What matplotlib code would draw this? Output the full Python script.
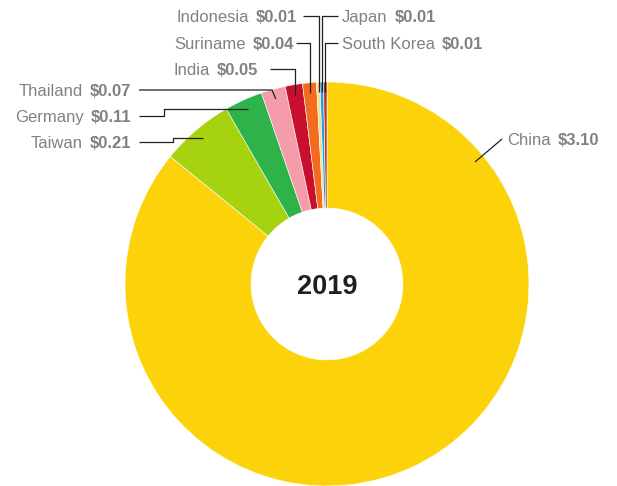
import matplotlib.pyplot as plt
import numpy as np

# Data (values in $)
countries = ["China", "Taiwan", "Germany", "Thailand", "India", "Suriname",
             "Indonesia", "Japan", "South Korea"]
values = [3.10, 0.21, 0.11, 0.07, 0.05, 0.04, 0.01, 0.01, 0.01]
value_labels = ["$3.10", "$0.21", "$0.11", "$0.07", "$0.05", "$0.04",
                "$0.01", "$0.01", "$0.01"]
colors = ["#FCD30A", "#A6D20F", "#2DB34A", "#F49CA9", "#C8102E", "#F26B21",
          "#F1E08C", "#1E9FD9", "#B83B2F"]
year = "2019"

# Label layout in pixels: text x, text y, side of text, line start x, leader mode, elbow x
label_layout = {
    "China":       (507, 139, "right", 502, "straight", 502),
    "Taiwan":      (131, 142, "left", 139, "elbow_h", 173),
    "Germany":     (131, 116, "left", 139, "elbow_h", 164),
    "Thailand":    (131, 90, "left", 139, "straight", 272),
    "India":       (258, 69, "left", 270, "elbow_v", None),
    "Suriname":    (294, 43, "left", 296, "elbow_v", None),
    "Indonesia":   (297, 16, "left", 303, "elbow_v", None),
    "Japan":       (342, 16, "right", 338, "elbow_v", None),
    "South Korea": (342, 43, "right", 338, "elbow_v", None),
}

CX, CY, R = 327, 284, 202  # pie centre and radius in pixels
W, H = 617, 486


def to_data(px, py):
    return (px - CX) / R, (CY - py) / R


if __name__ == "__main__":
    plt.rcParams["font.family"] = ["Liberation Sans", "DejaVu Sans"]
    fig = plt.figure(figsize=(W / 100, H / 100), dpi=100)
    ax = fig.add_axes([0, 0, 1, 1])

    wedges, _ = ax.pie(values, colors=colors, startangle=90, counterclock=False,
                       radius=1, wedgeprops=dict(width=0.624, edgecolor="white", linewidth=0.4))
    ax.set_xlim(-CX / R, (W - CX) / R)
    ax.set_ylim(-(H - CY) / R, CY / R)
    ax.set_aspect("auto")
    ax.axis("off")

    ax.text(0, 0, year, ha="center", va="center_baseline", fontsize=19.5,
            fontweight="bold", color="#231F20")

    grey = "#808184"
    fs = 12
    for wedge, name, vlabel in zip(wedges, countries, value_labels):
        tx, ty, side, lx, mode, ex_elbow = label_layout[name]
        # leader end point on the slice
        ang = (wedge.theta1 + wedge.theta2) / 2
        if name == "China":
            ang = 39.5
        ex = CX + 0.95 * R * np.cos(np.radians(ang))
        ey = CY - 0.95 * R * np.sin(np.radians(ang))
        if mode == "elbow_h":
            pts = [(lx, ty), (ex_elbow, ty), (ex_elbow, ey), (ex, ey)]
        elif mode == "elbow_v":
            pts = [(lx, ty), (ex, ty), (ex, ey)]
        else:
            pts = [(lx, ty), (ex_elbow, ty), (ex, ey)]
        xs, ys = zip(*[to_data(p[0], p[1]) for p in pts])
        ax.plot(xs, ys, color="#231F20", linewidth=0.9, solid_capstyle="butt")

        x, y = to_data(tx, ty)
        if side == "left":
            vt = ax.text(x, y, vlabel, ha="right", va="center_baseline", fontsize=fs,
                         fontweight="bold", color=grey)
            ax.annotate(name, xy=(0, 0.5), xycoords=vt, xytext=(-5, 0),
                        textcoords="offset points", ha="right", va="center",
                        fontsize=fs, color=grey)
        else:
            nt = ax.text(x, y, name, ha="left", va="center_baseline", fontsize=fs,
                         color=grey)
            ax.annotate(vlabel, xy=(1, 0.5), xycoords=nt, xytext=(5, 0),
                        textcoords="offset points", ha="left", va="center",
                        fontsize=fs, fontweight="bold", color=grey)

    plt.savefig("out.png", dpi=100)
